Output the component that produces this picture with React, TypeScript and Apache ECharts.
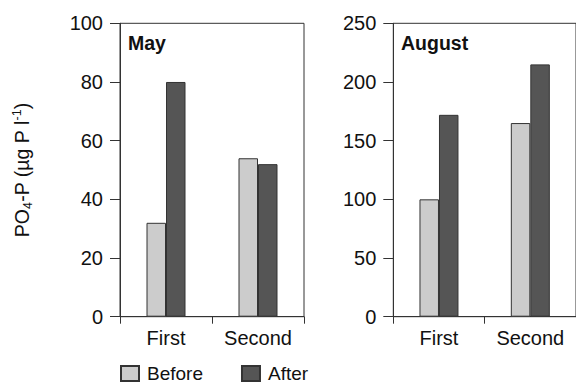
import React, { useEffect, useRef } from "react";
import * as echarts from "echarts";

// Sampling occasion on the x axis
const categories = ["First", "Second"];
// PO4-P concentrations (µg P l-1), May
const mayBefore = [32, 54];
const mayAfter = [80, 52];
// PO4-P concentrations (µg P l-1), August
const augBefore = [100, 165];
const augAfter = [172, 215];
const seriesNames = ["Before", "After"];
const panelTitles = ["May", "August"];

const FONT = "'Liberation Sans', Arial, Helvetica, sans-serif";
const AXIS = "#333333";
const LIGHT = "#cccccc";
const DARK = "#555555";
const TEXT = "#111111";
const FS = 20;

export default function App() {
  const ref = useRef<HTMLDivElement>(null);

  useEffect(() => {
    if (!ref.current) return;
    const chart = echarts.init(ref.current, undefined, { renderer: "svg" });

    const xAxisBase = (gridIndex: number) => ({
      type: "category" as const,
      gridIndex,
      data: categories,
      axisLine: { lineStyle: { color: AXIS, width: 1 } },
      axisTick: { show: true, length: 7, lineStyle: { color: AXIS } },
      axisLabel: { color: TEXT, fontSize: FS, fontFamily: FONT, margin: 11 },
    });
    const yAxisBase = (gridIndex: number, max: number, interval: number) => ({
      type: "value" as const,
      gridIndex,
      min: 0,
      max,
      interval,
      axisLine: { show: true, lineStyle: { color: AXIS, width: 1 } },
      axisTick: { show: true, length: 10, lineStyle: { color: AXIS } },
      axisLabel: { color: TEXT, fontSize: FS, fontFamily: FONT, margin: 17 },
      splitLine: { show: false },
    });
    const bar = (name: string, data: number[], idx: number, color: string) => ({
      type: "bar" as const,
      name,
      data,
      xAxisIndex: idx,
      yAxisIndex: idx,
      barWidth: 19.5,
      barGap: "0%",
      itemStyle: { color, borderColor: AXIS, borderWidth: 1 },
    });

    chart.setOption({
      animation: false,
      grid: [
        { left: 120, top: 23.3, width: 184, height: 293.4, show: true, borderColor: AXIS, borderWidth: 1, backgroundColor: "transparent" },
        { left: 393.3, top: 23.3, width: 184.7, height: 293.4, show: true, borderColor: AXIS, borderWidth: 1, backgroundColor: "transparent" },
      ],
      xAxis: [xAxisBase(0), xAxisBase(1)],
      yAxis: [yAxisBase(0, 100, 20), yAxisBase(1, 250, 50)],
      legend: {
        data: seriesNames,
        left: 120,
        top: 364,
        icon: "rect",
        itemWidth: 18,
        itemHeight: 15,
        itemGap: 38,
        padding: 0,
        textStyle: { fontSize: 19, fontFamily: FONT, color: TEXT, padding: [0, 0, 0, 3] },
      },
      series: [
        bar(seriesNames[0], mayBefore, 0, LIGHT),
        bar(seriesNames[1], mayAfter, 0, DARK),
        bar(seriesNames[0], augBefore, 1, LIGHT),
        bar(seriesNames[1], augAfter, 1, DARK),
      ],
      graphic: [
        {
          type: "text",
          x: 128,
          y: 43,
          style: { text: panelTitles[0], fontSize: 19.5, fontWeight: "bold", fontFamily: FONT, fill: TEXT, verticalAlign: "middle" },
        },
        {
          type: "text",
          x: 401,
          y: 43,
          style: { text: panelTitles[1], fontSize: 19.5, fontWeight: "bold", fontFamily: FONT, fill: TEXT, verticalAlign: "middle" },
        },
        {
          type: "text",
          x: 22,
          y: 170,
          rotation: Math.PI / 2,
          style: {
            text: "{a|PO}{sub|4}{a|-P (µg P l}{sup|-1}{a|)}",
            align: "center",
            verticalAlign: "middle",
            fontFamily: FONT,
            fill: TEXT,
            rich: {
              a: { fontSize: 19.5, fontFamily: FONT, fill: TEXT, lineHeight: 24, verticalAlign: "middle" },
              sub: { fontSize: 12.5, fontFamily: FONT, fill: TEXT, lineHeight: 24, verticalAlign: "bottom" },
              sup: { fontSize: 12.5, fontFamily: FONT, fill: TEXT, lineHeight: 24, verticalAlign: "top" },
            },
          },
        },
      ],
    });

    return () => chart.dispose();
  }, []);

  return <div ref={ref} style={{ width: 576, height: 385, position: "absolute", left: 0, top: 0 }} />;
}
